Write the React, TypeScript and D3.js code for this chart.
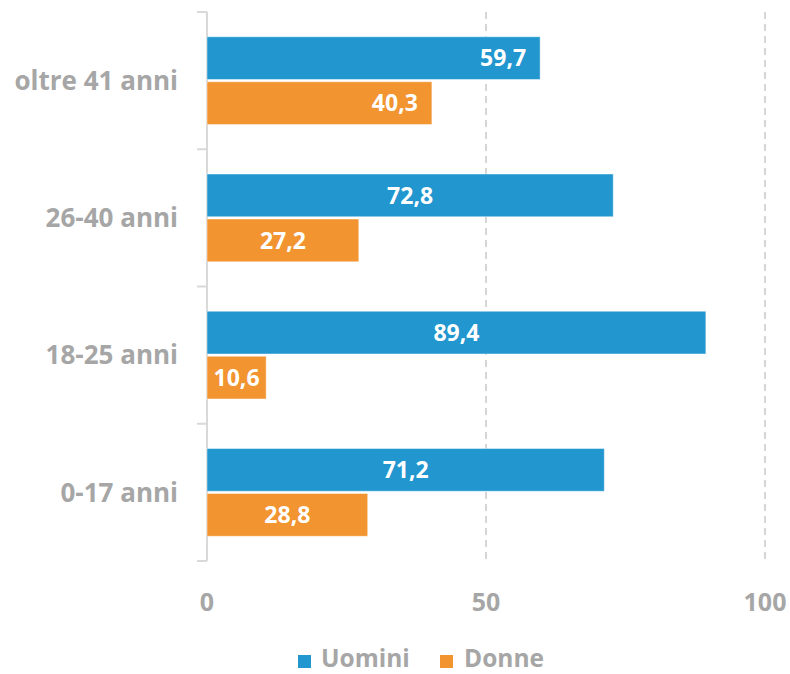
import React from "react";
import * as d3 from "d3";

const categories = ["oltre 41 anni", "26-40 anni", "18-25 anni", "0-17 anni"];
const seriesNames = ["Uomini", "Donne"];
const uomini = [59.7, 72.8, 89.4, 71.2];
const donne = [40.3, 27.2, 10.6, 28.8];
const xTicks = [0, 50, 100];
const colors = ["#2196CF", "#F29430"];
const labelPos = ["end", "center", "center", "center"];

const W = 790;
const H = 674;
const FONT = "'Open Sans', 'DejaVu Sans', sans-serif";
const GRAY = "#A6A6A6";
const AXIS = "#D9D9D9";

export default function App() {
  const x = d3.scaleLinear().domain([0, 100]).range([207, 765]);
  const y = d3.scaleBand<string>().domain(categories).range([12, 561]).paddingInner(0).paddingOuter(0);
  const inner = d3.scaleBand<string>().domain(seriesNames).range([0, y.bandwidth()]).paddingInner(0.05).paddingOuter(0.55);
  const fmt = (v: number) => v.toFixed(1).replace(".", ",");
  const values = [uomini, donne];
  const boundaries = [...categories.map((c) => y(c) as number), 561];

  return (
    <svg width={W} height={H} style={{ position: "absolute", left: 0, top: 0, background: "#fff" }}>
      {xTicks.filter((t) => t > 0).map((t) => (
        <line key={t} x1={x(t)} x2={x(t)} y1={12} y2={561} stroke="#D6D6D6" strokeWidth={2} strokeDasharray="7,5" />
      ))}
      <line x1={x(0)} x2={x(0)} y1={12} y2={561} stroke={AXIS} strokeWidth={2} />
      {boundaries.map((b, i) => (
        <line key={i} x1={197} x2={x(0)} y1={b} y2={b} stroke={AXIS} strokeWidth={2} />
      ))}
      {categories.map((c, ci) => (
        <g key={c}>
          {seriesNames.map((s, si) => {
            const v = values[si][ci];
            const by = (y(c) as number) + (inner(s) as number);
            const bh = inner.bandwidth();
            const bx = x(0);
            const bw = x(v) - x(0);
            const pos = labelPos[ci];
            const tx = pos === "end" ? bx + bw - 14 : bx + bw / 2;
            return (
              <g key={s}>
                <rect x={bx} y={by} width={bw} height={bh} fill={colors[si]} stroke="#ffffff" strokeOpacity={0.45} strokeWidth={1} />
                <text x={tx} y={by + bh / 2} dy="0.36em" textAnchor={pos === "end" ? "end" : "middle"} fill="#fff" fontFamily={FONT} fontWeight={700} fontSize={23}>
                  {fmt(v)}
                </text>
              </g>
            );
          })}
          <text x={178} y={(y(c) as number) + y.bandwidth() / 2} dy="0.36em" textAnchor="end" fill={GRAY} fontFamily={FONT} fontWeight={700} fontSize={26}>
            {c}
          </text>
        </g>
      ))}
      {xTicks.map((t) => (
        <text key={t} x={x(t)} y={611} textAnchor="middle" fill={GRAY} fontFamily={FONT} fontWeight={700} fontSize={25}>
          {t}
        </text>
      ))}
      <g>
        <rect x={298} y={655} width={13} height={13} fill={colors[0]} />
        <text x={321} y={667} fill={GRAY} fontFamily={FONT} fontWeight={700} fontSize={24.5}>{seriesNames[0]}</text>
        <rect x={440} y={655} width={13} height={13} fill={colors[1]} />
        <text x={464} y={667} fill={GRAY} fontFamily={FONT} fontWeight={700} fontSize={24.5}>{seriesNames[1]}</text>
      </g>
    </svg>
  );
}
